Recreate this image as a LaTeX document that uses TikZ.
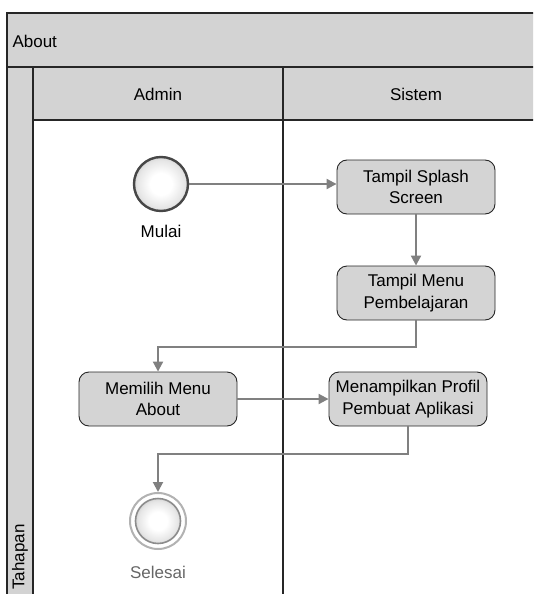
\documentclass[tikz,border=0pt]{standalone}
\usepackage{fontspec}
\setmainfont{Liberation Sans}
\usetikzlibrary{arrows.meta,positioning,calc}
\definecolor{lanegray}{HTML}{D3D3D3}
\definecolor{boxgray}{HTML}{D4D4D4}
\definecolor{flowgray}{HTML}{808080}
% soft ball shading: white core, grey rim
\pgfdeclareradialshading{ballshade}{\pgfpoint{0bp}{0bp}}{%
  color(0bp)=(white); color(10bp)=(white); color(22bp)=(black!10);
  color(30bp)=(black!26); color(50bp)=(black!40)}
\begin{document}
\begin{tikzpicture}[x=1pt,y=-1pt,
  txt/.style={font=\fontsize{17}{21.5}\selectfont},
  frame/.style={draw=black!85,line width=1.2pt},
  activity/.style={txt,draw=black!85,line width=0.9pt,fill=boxgray,rounded corners=10pt,
    minimum width=158pt,minimum height=54pt,align=center,inner sep=1pt},
  startnode/.style={circle,draw=black!72,line width=2.4pt,shading=ballshade,
    minimum size=54pt,inner sep=0pt},
  endring/.style={circle,draw=black!30,line width=2pt,fill=white,minimum size=56pt,inner sep=0pt},
  endcore/.style={circle,draw=black!45,line width=1.6pt,shading=ballshade,
    minimum size=45pt,inner sep=0pt},
  flow/.style={draw=flowgray,line width=2pt,-{Triangle[length=10pt,width=10pt]}}
]
\useasboundingbox (0,0) rectangle (533,594);
\clip (0,0) rectangle (533,594);

% pool header and lane bands
\fill[lanegray] (7,13) rectangle (560,67);
\fill[lanegray] (7,67) rectangle (33,620);
\fill[lanegray] (33,67) rectangle (560,120);
\draw[frame] (7,620) -- (7,13) -- (560,13);
\draw[frame] (7,67) -- (560,67);
\draw[frame] (33,120) -- (560,120);
\draw[frame] (33,67) -- (33,620);
\draw[frame] (283,67) -- (283,620);

\node[txt,anchor=west] (pool) at (9,41) {About};
\node[txt] (admin) at (158,94) {Admin};
\node[txt] (sistem) at (416,94) {Sistem};
\node[txt,rotate=90] (tahapan) at (20,557) {Tahapan};

% flow nodes
\node[startnode] (start) at (161,184) {};
\node[txt] (mulai) at (161,231) {Mulai};
\node[activity] (splash) at (416,187) {Tampil Splash\\Screen};
\node[activity] (menu) at (416,293) {Tampil Menu\\Pembelajaran};
\node[activity] (pilih) at (158,399) {Memilih Menu\\About};
\node[activity] (profil) at (408,399) {Menampilkan Profil\\Pembuat Aplikasi};
\node[endring] (stop) at (158,521) {};
\node[endcore] (stopcore) at (stop) {};
\node[txt,text=black!60] (selesai) at (158,572) {Selesai};

% connectors
\draw[flow] (start.east) -- (start.east -| splash.west);
\draw[flow] (splash.south) -- (menu.north);
\draw[flow] (menu.south) -- ++(0,27) -| (pilih.north);
\draw[flow] (pilih.east) -- (profil.west);
\draw[flow] (profil.south) -- ++(0,28) -| (stop.north);
\end{tikzpicture}
\end{document}
